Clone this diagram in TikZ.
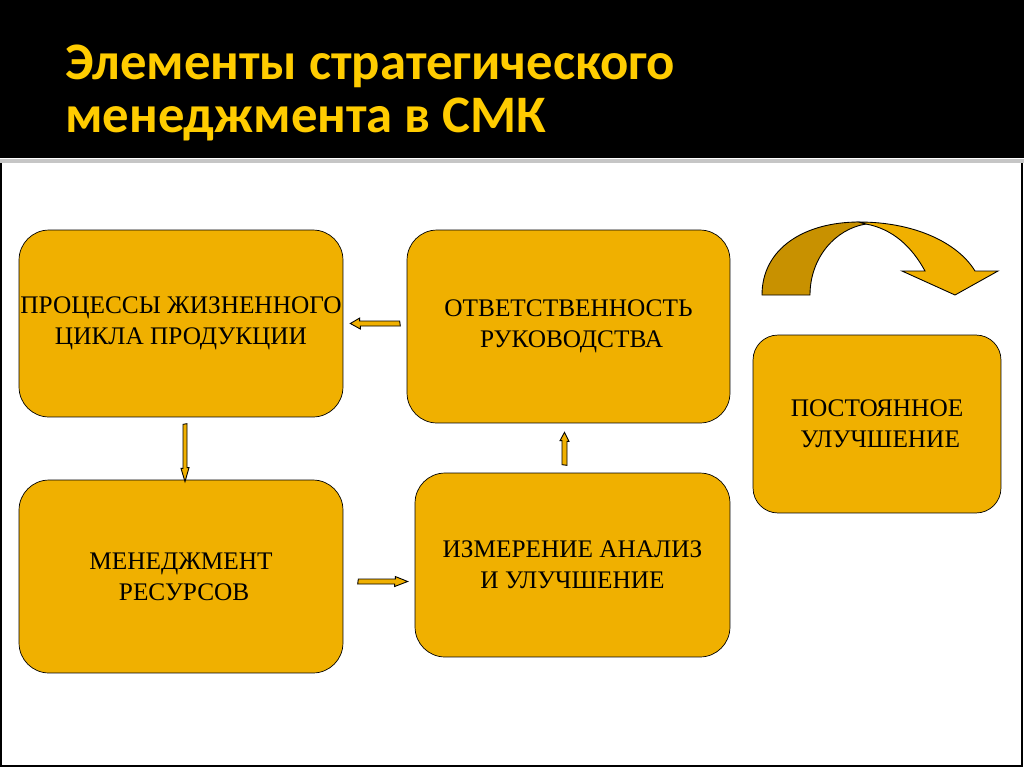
\documentclass[tikz,border=0pt]{standalone}
\usepackage{fontspec}
\setmainfont{Liberation Serif}
\newfontfamily\titlefont{Carlito}
\definecolor{boxgold}{RGB}{240,176,0}
\definecolor{darkgold}{RGB}{200,145,0}
\definecolor{titleyellow}{RGB}{255,204,0}

\begin{document}
\begin{tikzpicture}[x=0.02cm, y=-0.02cm,
    box/.style={draw=black, fill=boxgold, rounded corners=0.6cm, inner sep=0pt,
      align=center, font=\fontsize{14.4}{17.6}\selectfont},
    blockarrow/.style={draw=black, fill=boxgold, line width=0.5pt, line join=miter},
    title/.style={anchor=base west, text=titleyellow, inner sep=0pt,
      font=\titlefont\bfseries\fontsize{30}{31}\selectfont}]
    \useasboundingbox (0, 0) rectangle (1024, 768);
    % slide
    \fill [white] (0, 0) rectangle (1024, 768);
    \fill [black] (0, 0) rectangle (1024, 158);
    \draw [gray!45, line width=2pt] (0, 161) -- (1024, 161);
    \draw [line width=1pt] (1, 163)
    -- (1, 766)
    -- (1022, 766)
    -- (1022, 163);
    % title
    \node [title] (t1) at (65, 79) {Элементы стратегического};
    \node [title] (t2) at (65, 132) {менеджмента в СМК};
    % boxes
    \node [box, minimum width=6.48cm, minimum height=3.74cm] (b1) at (181, 323.5)
      {ПРОЦЕССЫ ЖИЗНЕННОГО\\ЦИКЛА ПРОДУКЦИИ};
    \node [box, minimum width=6.46cm, minimum height=3.86cm] (b2) at (568.5, 326.5)
      {ОТВЕТСТВЕННОСТЬ\\\ РУКОВОДСТВА};
    \node [box, minimum width=6.48cm, minimum height=3.86cm] (b3) at (181, 576.5)
      {МЕНЕДЖМЕНТ\\\ РЕСУРСОВ};
    \node [box, minimum width=6.3cm, minimum height=3.68cm] (b4) at (572.5, 565)
      {ИЗМЕРЕНИЕ АНАЛИЗ\\И УЛУЧШЕНИЕ};
    \node [box, rounded corners=0.5cm, minimum width=4.96cm, minimum height=3.56cm]
      (b5) at (877, 424) {ПОСТОЯННОЕ\\\ УЛУЧШЕНИЕ};
    % arrow ends
    \coordinate (s21) at ([shift={(-7,-3)}]b2.west);
    \coordinate (e21) at ([shift={(7,0)}]b1.east);
    \coordinate (s13) at ([shift={(4,7)}]b1.south);
    \coordinate (e13) at ([shift={(4,2)}]b3.north);
    \coordinate (s34) at ([shift={(15,5)}]b3.east);
    \coordinate (e34) at ([shift={(-7,16.5)}]b4.west);
    \coordinate (s42) at ([shift={(-8,-8)}]b4.north);
    \coordinate (e42) at ([shift={(-4,9)}]b2.south);
    % responsibility -> processes
    \draw [blockarrow] (s21) ++(0, -2.5)
    -- ++(-40, 0)
    -- ++(0, -3)
    -- (e21)
    -- ++(10, 5.5)
    -- ++(0, -3)
    -- ++(40, 0)
    -- cycle;
    % processes -> resources
    \draw [blockarrow] (s13) ++(-2, 0)
    -- ++(0, 44)
    -- ++(-2, 0)
    -- (e13)
    -- ++(4, -14)
    -- ++(-2, 0)
    -- ++(0, -44)
    -- cycle;
    % resources -> measurement
    \draw [blockarrow] (s34) ++(0, -2.5)
    -- ++(37, 0)
    -- ++(0, -2.5)
    -- (e34)
    -- ++(-13, 5)
    -- ++(0, -2.5)
    -- ++(-37, 0)
    -- cycle;
    % measurement -> responsibility
    \draw [blockarrow] (s42) ++(-2.5, 0)
    -- ++(0, -24)
    -- ++(-2, 0)
    -- (e42)
    -- ++(4.5, 9)
    -- ++(-2, 0)
    -- ++(0, 24)
    -- cycle;
    % curved arrow, back part
    \draw [fill=darkgold, line width=0.5pt] (762, 295)
    .. controls (762, 248) and (805, 222) .. (859, 222)
    -- (866, 224)
    .. controls (835, 229) and (810, 258) .. (810, 295)
    -- cycle;
    % curved arrow, front part
    \draw [fill=boxgold, line width=0.5pt, line join=miter] (859, 222)
    .. controls (915, 222) and (958, 243) .. (975, 271)
    -- (998, 271)
    -- (955, 295)
    -- (902, 271)
    -- (925, 271)
    .. controls (912, 247) and (893, 229) .. (866, 224)
    -- cycle;
\end{tikzpicture}
\end{document}
